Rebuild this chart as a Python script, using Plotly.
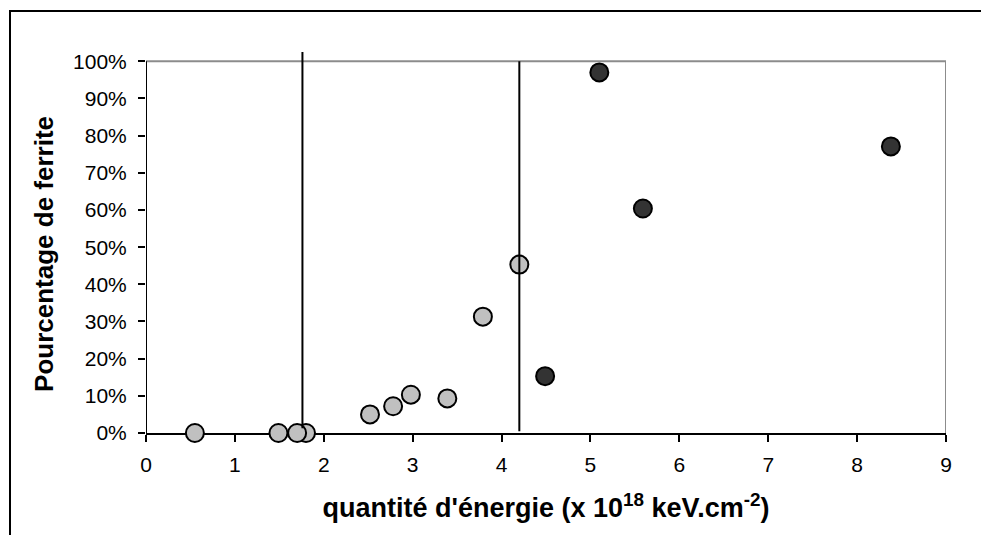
import plotly.graph_objects as go

# Points before the threshold (light grey) and after (dark)
light_x = [0.55, 1.49, 1.80, 1.70, 2.52, 2.78, 2.98, 3.39, 3.79, 4.20]
light_y = [0.0, 0.0, 0.0, 0.0, 0.050, 0.072, 0.103, 0.093, 0.313, 0.453]
dark_x = [4.49, 5.10, 5.59, 8.38]
dark_y = [0.153, 0.970, 0.604, 0.771]

# Vertical marker lines
line1_x = [1.76, 1.76]
line1_y = [0.013, 1.025]
line2_x = [4.20, 4.20]
line2_y = [0.005, 1.0]

x_ticks = list(range(0, 10))
y_ticks = [i / 10 for i in range(0, 11)]

FONT = "Arial, Liberation Sans, sans-serif"

fig = go.Figure()
fig.add_trace(go.Scatter(
    x=light_x, y=light_y, mode="markers", cliponaxis=False,
    marker=dict(size=18, color="#c0c0c0", line=dict(color="black", width=2)),
))
fig.add_trace(go.Scatter(
    x=dark_x, y=dark_y, mode="markers", cliponaxis=False,
    marker=dict(size=18, color="#333333", line=dict(color="black", width=2)),
))
fig.add_trace(go.Scatter(x=line1_x, y=line1_y, mode="lines", line=dict(color="black", width=2)))
fig.add_trace(go.Scatter(x=line2_x, y=line2_y, mode="lines", line=dict(color="black", width=2)))

shapes = [
    # outer chart frame (runs off the page on right and bottom)
    dict(type="rect", xref="paper", yref="paper", x0=-0.17, x1=1.2, y0=-0.5, y1=1.1076,
         line=dict(color="black", width=2), layer="below"),
    # plot area frame: grey top and right, black left
    dict(type="line", xref="x", yref="y", x0=0, x1=9, y0=1, y1=1,
         line=dict(color="#8c8c8c", width=2), layer="below"),
    dict(type="line", xref="x", yref="y", x0=9, x1=9, y0=0, y1=1,
         line=dict(color="#8c8c8c", width=2), layer="below"),
    dict(type="line", xref="x", yref="y", x0=0, x1=0, y0=0, y1=1,
         line=dict(color="black", width=2), layer="below"),
]

# y title as an annotation so it centres on the 0-100% span, not the padded range
annotations = [
    dict(text="<b>Pourcentage de ferrite</b>", textangle=-90, showarrow=False,
         xref="paper", yref="paper", x=-0.1275, y=0.47, xanchor="center", yanchor="middle",
         font=dict(size=26)),
]

# page body has an 8px margin, so the figure is a bit smaller than the window
fig.update_layout(
    width=981, height=527,
    margin=dict(l=138, r=43, t=44, b=102),
    paper_bgcolor="white", plot_bgcolor="white",
    showlegend=False,
    font=dict(family=FONT, color="black", size=21),
    shapes=shapes,
    annotations=annotations,
    xaxis=dict(
        range=[0, 9], tickvals=x_ticks, showgrid=False, zeroline=False,
        showline=True, linecolor="black", linewidth=2, layer="below traces",
        ticks="outside", ticklen=7, tickwidth=1.5, tickcolor="black",
        tickfont=dict(size=21), ticklabelstandoff=5,
        title=dict(text="<b>quantité d'énergie (x 10<sup>18</sup> keV.cm<sup>-2</sup>)</b>",
                   font=dict(size=27), standoff=23),
    ),
    yaxis=dict(
        range=[0, 1.025], tickvals=y_ticks, tickformat=".0%", showgrid=False,
        zeroline=False, showline=False, layer="below traces",
        ticks="outside", ticklen=7, tickwidth=1.5, tickcolor="black",
        tickfont=dict(size=21), ticklabelstandoff=7,
    ),
)

fig.write_html("out.html")
